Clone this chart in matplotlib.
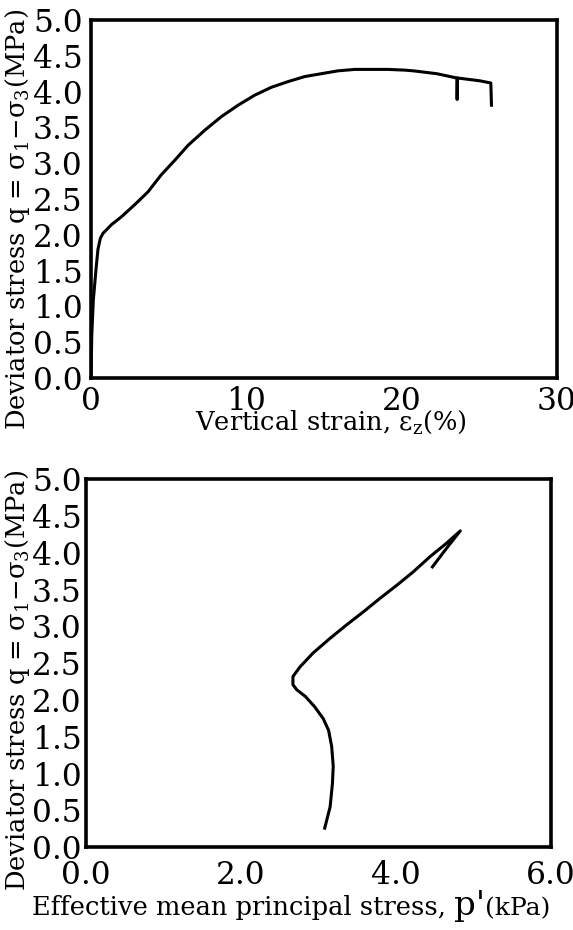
import matplotlib
matplotlib.use("Agg")
import matplotlib.pyplot as plt
from matplotlib.offsetbox import TextArea, HPacker, AnchoredOffsetbox

plt.rcParams['font.family'] = ['DejaVu Serif']
plt.rcParams['mathtext.fontset'] = 'dejavuserif'

# --- data: stress-strain curve ---
strain = [0, 0.05, 0.15, 0.34, 0.45, 0.6, 0.77, 1.31, 1.95, 2.81, 3.67, 4.53, 5.39,
          6.25, 7.32, 8.39, 9.47, 10.54, 11.61, 12.69, 13.76, 14.83, 15.9, 16.98,
          18.05, 19.12, 20.2, 20.75, 22.26, 23.55, 23.57, 23.6, 25.05, 25.74, 25.78]
q_top = [0, 0.6, 1.09, 1.56, 1.80, 1.95, 2.02, 2.14, 2.25, 2.42, 2.60, 2.84, 3.04,
         3.25, 3.46, 3.65, 3.81, 3.95, 4.06, 4.14, 4.21, 4.25, 4.29, 4.31,
         4.31, 4.31, 4.30, 4.29, 4.25, 4.19, 3.89, 4.19, 4.15, 4.12, 3.81]

# --- data: stress path ---
p_eff = [3.08, 3.15, 3.18, 3.19, 3.17, 3.13, 3.06, 2.95, 2.83, 2.72, 2.67, 2.67,
         2.76, 2.93, 3.15, 3.36, 3.58, 3.79, 4.01, 4.22, 4.44, 4.65, 4.83, 4.65, 4.47]
q_bot = [0.26, 0.55, 0.87, 1.10, 1.37, 1.59, 1.75, 1.91, 2.05, 2.14, 2.21, 2.32,
         2.45, 2.64, 2.84, 3.02, 3.20, 3.38, 3.56, 3.74, 3.95, 4.13, 4.30, 4.06, 3.81]

yticks = [0.0, 0.5, 1.0, 1.5, 2.0, 2.5, 3.0, 3.5, 4.0, 4.5, 5.0]
ytick_labels = ["0.0", "0.5", "1.0", "1.5", "2.0", "2.5", "3.0", "3.5", "4.0", "4.5", "5.0"]
xticks_top = [0, 10, 20, 30]
xticks_bot = [0.0, 2.0, 4.0, 6.0]
xtick_labels_bot = ["0.0", "2.0", "4.0", "6.0"]

fig = plt.figure(figsize=(5.73, 9.30), dpi=100)

ylabel = r"Deviator stress q = σ$_1$−σ$_3$(MPa)"
tick_fs = 22.5
label_fs = 18.5

# top axes
ax1 = fig.add_axes([91/573, 1-378/930, (557-91)/573, (378-20)/930])
ax1.plot(strain, q_top, color='black', lw=2.2, solid_joinstyle='round')
ax1.set_xlim(0, 30)
ax1.set_ylim(0, 5)
ax1.set_xticks(xticks_top)
ax1.set_yticks(yticks)
ax1.set_yticklabels(ytick_labels)
ax1.tick_params(axis='both', length=0, labelsize=tick_fs)
ax1.tick_params(axis='x', pad=5.5)
ax1.tick_params(axis='y', pad=6.0)
for s in ax1.spines.values():
    s.set_linewidth(2.6)
fig.text(331/573, 1-430/930, r"Vertical strain, ε$_\mathrm{z}$(%)", fontsize=label_fs,
         ha='center', va='baseline')
fig.text(18/573, 1-219/930, ylabel, fontsize=label_fs, rotation=90, ha='center', va='center')

# bottom axes
ax2 = fig.add_axes([86/573, 1-847.3/930, (551-86)/573, (847.3-479.3)/930])
ax2.plot(p_eff, q_bot, color='black', lw=2.2, solid_joinstyle='round')
ax2.set_xlim(0, 6)
ax2.set_ylim(0, 5)
ax2.set_xticks(xticks_bot)
ax2.set_xticklabels(xtick_labels_bot)
ax2.set_yticks(yticks)
ax2.set_yticklabels(ytick_labels)
ax2.tick_params(axis='both', length=0, labelsize=tick_fs)
ax2.tick_params(axis='x', pad=9.5)
ax2.tick_params(axis='y', pad=3.0)
for s in ax2.spines.values():
    s.set_linewidth(2.6)
fig.text(18/573, 1-680/930, ylabel, fontsize=label_fs, rotation=90, ha='center', va='center')

t1 = TextArea("Effective mean principal stress, ", textprops=dict(fontsize=18.5))
t2 = TextArea("p'", textprops=dict(fontsize=24.5))
t3 = TextArea("(kPa)", textprops=dict(fontsize=18.0))
pack = HPacker(children=[t1, t2, t3], align="baseline", pad=0, sep=0)
box = AnchoredOffsetbox(loc='center', child=pack, frameon=False, pad=0, borderpad=0,
                        bbox_to_anchor=(291/573, 1-906/930), bbox_transform=fig.transFigure)
fig.add_artist(box)

fig.savefig("out.png", dpi=100)
